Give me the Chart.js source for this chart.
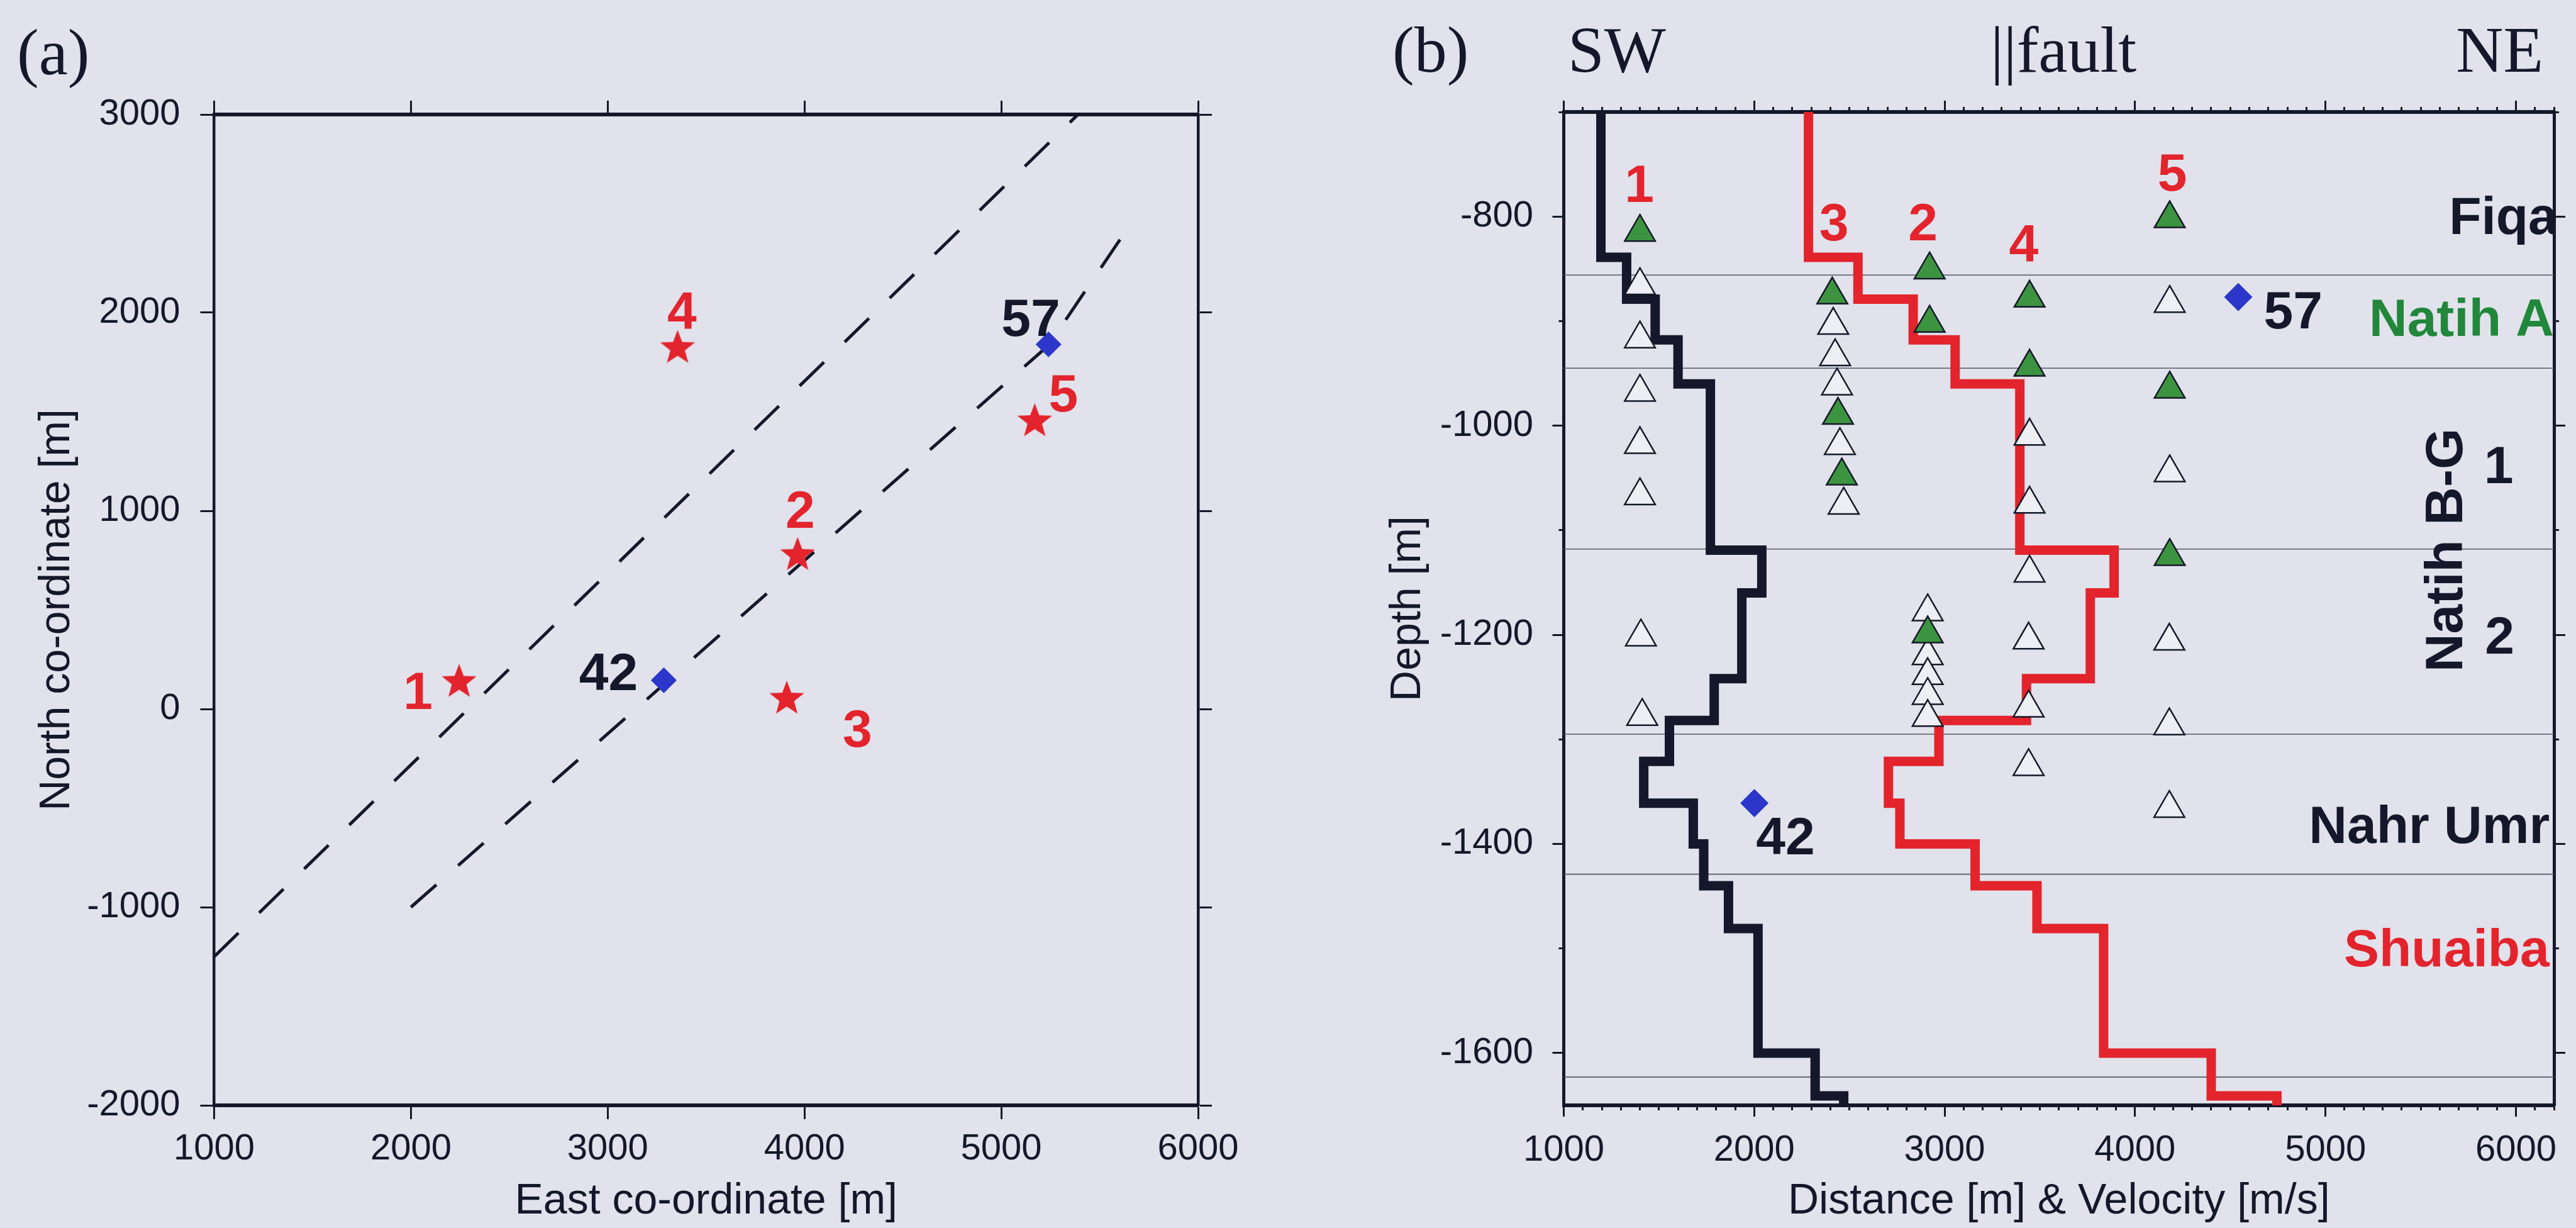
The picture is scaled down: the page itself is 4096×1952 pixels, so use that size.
<!DOCTYPE html>
<html>
<head>
<meta charset="utf-8">
<script src="https://cdn.jsdelivr.net/npm/chart.js@4/dist/chart.umd.min.js"></script>
<style>
  html, body { margin: 0; padding: 0; background: #e1e2eb; }
  body { width: 4096px; height: 1952px; position: relative; overflow: hidden; }
  canvas { position: absolute; top: 0; }
  #mapChart { left: 0; }
  #depthChart { left: 2100px; }
</style>
</head>
<body>
<canvas id="mapChart" width="2040" height="1952"></canvas>
<canvas id="depthChart" width="1996" height="1952"></canvas>
<script>
// ---- panel (a): map view ----
const starEast  = [2245, 3965, 3910, 3355, 5170];
const starNorth = [145, 785, 60, 1830, 1460];
const starName  = ['1', '2', '3', '4', '5'];
const starTagEast  = [2036, 3978, 4269, 3377, 5316];
const starTagNorth = [0, 913, -189, 1918, 1503];

const wellEast  = [5240, 3285];
const wellNorth = [1840, 145];
const wellName  = ['57', '42'];
const wellTagEast  = [5150, 3004];
const wellTagNorth = [1884, 94];

const faultAEast  = [1000, 5390];
const faultANorth = [-1250, 3000];
const faultBEast  = [2000, 5240, 5655];
const faultBNorth = [-1000, 1835, 2445];

const mapTickEast  = [1000, 2000, 3000, 4000, 5000, 6000];
const mapTickNorth = [-2000, -1000, 0, 1000, 2000, 3000];

// ---- panel (b): depth section ----
const layerTop  = [-700, -839, -879, -918, -960, -1119, -1160, -1242, -1282, -1321, -1361, -1400, -1440, -1481, -1600, -1641];
const depthBase = -1650;
const velBlack  = [1195, 1330, 1480, 1600, 1770, 2040, 1935, 1790, 1555, 1420, 1680, 1735, 1865, 2020, 2320, 2470];
const velRed    = [2285, 2545, 2835, 3055, 3395, 3890, 3765, 3430, 2970, 2705, 2765, 3160, 3485, 3835, 4400, 4745];
const horizonDepth = [-856, -945, -1118, -1295, -1429, -1623];

const openDist  = [1400, 1400, 1400, 1400, 1400, 1405, 1412, 2415, 2425, 2435, 2450, 2470, 2911, 2911, 2911, 2911, 2911, 3446, 3446, 3446, 3441, 3441, 3441, 4182, 4182, 4180, 4180, 4180];
const openDepth = [-866, -917, -968, -1018, -1067, -1202, -1278, -904, -934, -962, -1019, -1076, -1178, -1220, -1239, -1258, -1279, -1010, -1075, -1141, -1205, -1270, -1326, -883, -1045, -1206, -1287, -1366];
const pickDist  = [1400, 2410, 2440, 2460, 2921, 2921, 2911, 3446, 3446, 4182, 4182, 4182];
const pickDepth = [-815, -875, -990, -1048, -851, -902, -1199, -878, -944, -802, -965, -1125];

const shotTagDist  = [1397, 2886, 2419, 3415, 4196];
const shotTagDepth = [-786, -823, -823, -843, -775];

const wellDist  = [4542, 2001];
const wellDepth = [-877, -1361];
const wellTagDist  = [4676, 2010];
const wellTagDepth = [-907, -1410];

const unitName  = ['Fiqa', 'Natih A', 'Nahr Umr', 'Shuaiba', '1', '2'];
const unitDist  = [5649, 5229, 4913, 5097, 5910, 5915];
const unitDepth = [-817, -914, -1399, -1517, -1055, -1218];

const sectTickDist  = [1000, 2000, 3000, 4000, 5000, 6000];
const sectTickDepth = [-1600, -1400, -1200, -1000, -800];

const INK = '#15182a';
const RED = '#e3242d';
const BLUE = '#2c37c9';
const GREEN = '#3d9440';
const SANS = "'Liberation Sans', Arial, Helvetica, sans-serif";
const SERIF = "'Liberation Serif', 'Times New Roman', serif";

const pts = (xs, ys) => xs.map((x, i) => ({x: x, y: ys[i]}));
const fixSize = px => scale => { if (scale.isHorizontal()) scale.height = px; else scale.width = px; };

// minor tick marks every 100 m
function every(from, to, step) {
  const out = [];
  for (let v = from; v <= to; v += step) out.push(v);
  return out;
}

function axis(position, min, max, values, size, tick, o) {
  o = o || {};
  return {
    type: 'linear', position: position, min: min, max: max, weight: o.weight || 0,
    afterFit: fixSize(size),
    afterBuildTicks: scale => { scale.ticks = values.map(v => ({value: v})); },
    ticks: {
      display: !!o.labels, autoSkip: false, maxRotation: 0,
      padding: o.pad || 0, color: INK, font: {family: SANS, size: 58},
      callback: v => String(v)
    },
    grid: {display: true, drawOnChartArea: false, drawTicks: true, tickLength: tick, tickWidth: 3, tickColor: INK},
    border: {display: !!o.border, width: o.border || 1, color: INK},
    title: o.title ? {display: true, text: o.title, color: INK, font: {family: SANS, size: 68}, padding: o.titlePad}
                   : {display: false}
  };
}

function starImage(R, color) {
  const s = Math.ceil(R * 2 + 6);
  const c = document.createElement('canvas');
  c.width = s; c.height = s;
  const g = c.getContext('2d');
  g.translate(s / 2, s / 2 + R * 0.095);
  g.beginPath();
  for (let i = 0; i < 10; i++) {
    const r = i % 2 ? R * 0.42 : R;
    const a = -Math.PI / 2 + i * Math.PI / 5;
    g.lineTo(r * Math.cos(a), r * Math.sin(a));
  }
  g.closePath();
  g.fillStyle = color;
  g.fill();
  return c;
}

function stepLine(vel) {
  const out = [];
  vel.forEach((v, i) => {
    const bottom = i + 1 < layerTop.length ? layerTop[i + 1] : depthBase;
    out.push({x: v, y: layerTop[i]}, {x: v, y: bottom});
  });
  return out;
}

function text(ctx, str, x, y, font, color, align) {
  ctx.font = font;
  ctx.fillStyle = color;
  ctx.textAlign = align || 'left';
  ctx.textBaseline = 'alphabetic';
  ctx.fillText(str, x, y);
}

const BOLD = 'bold 84px ' + SANS;
const HEAD = '104px ' + SERIF;

const mapText = {
  id: 'mapText',
  afterDraw(chart) {
    const {ctx, scales: {x, y}} = chart;
    ctx.save();
    starName.forEach((t, i) => text(ctx, t, x.getPixelForValue(starTagEast[i]), y.getPixelForValue(starTagNorth[i]), BOLD, RED, 'center'));
    wellName.forEach((t, i) => text(ctx, t, x.getPixelForValue(wellTagEast[i]), y.getPixelForValue(wellTagNorth[i]), BOLD, INK, 'center'));
    text(ctx, '(a)', 27, 118, HEAD, INK);
    ctx.restore();
  }
};

const depthText = {
  id: 'depthText',
  afterDraw(chart) {
    const {ctx, chartArea: a, scales: {x, y}} = chart;
    ctx.save();
    ctx.beginPath();
    ctx.rect(a.left, a.top, a.right - a.left, a.bottom - a.top);
    ctx.clip();
    starName.forEach((t, i) => text(ctx, t, x.getPixelForValue(shotTagDist[i]), y.getPixelForValue(shotTagDepth[i]), BOLD, RED, 'center'));
    wellName.forEach((t, i) => text(ctx, t, x.getPixelForValue(wellTagDist[i]), y.getPixelForValue(wellTagDepth[i]), BOLD, INK));
    const unitColor = {'Natih A': '#21873a', 'Shuaiba': RED};
    unitName.forEach((t, i) => {
      const single = t.length === 1;
      text(ctx, t, x.getPixelForValue(unitDist[i]), y.getPixelForValue(unitDepth[i]), BOLD, unitColor[t] || INK, single ? 'center' : 'left');
    });
    ctx.save();
    ctx.translate(x.getPixelForValue(5719), y.getPixelForValue(-1119));
    ctx.rotate(-Math.PI / 2);
    text(ctx, 'Natih B-G', 0, 0, BOLD, INK, 'center');
    ctx.restore();
    ctx.restore();

    ctx.save();
    text(ctx, '(b)', 114, 114, HEAD, INK);
    text(ctx, 'SW', 393, 114, HEAD, INK);
    text(ctx, '||fault', 1065, 114, HEAD, INK);
    text(ctx, 'NE', 1944, 114, HEAD, INK, 'right');
    ctx.restore();
  }
};

const common = {
  responsive: false,
  animation: false,
  events: [],
  layout: {padding: 0},
  plugins: {legend: {display: false}, tooltip: {enabled: false}}
};

new Chart(document.getElementById('mapChart'), {
  type: 'scatter',
  data: {
    datasets: [
      {label: 'fault A', data: pts(faultAEast, faultANorth), showLine: true, borderColor: INK, borderWidth: 5,
       borderDash: [54, 46], borderCapStyle: 'butt', pointRadius: 0, order: 3},
      {label: 'fault B', data: pts(faultBEast, faultBNorth), showLine: true, borderColor: INK, borderWidth: 5,
       borderDash: [54, 46], borderCapStyle: 'butt', pointRadius: 0, order: 3},
      {label: 'shots', data: pts(starEast, starNorth), pointStyle: starImage(29, RED), pointRadius: 29, order: 1},
      {label: 'wells', data: pts(wellEast, wellNorth), pointStyle: 'rectRot', pointRadius: 20,
       backgroundColor: BLUE, borderColor: BLUE, borderWidth: 1, order: 1}
    ]
  },
  options: Object.assign({}, common, {
    scales: {
      x: axis('bottom', 1000, 6000, mapTickEast, 195, 22, {labels: true, pad: 13, border: 6,
           title: 'East co-ordinate [m]', titlePad: {top: 0, bottom: 1}}),
      xTop: axis('top', 1000, 6000, mapTickEast, 182, 22, {border: 6}),
      y: axis('left', -2000, 3000, mapTickNorth, 340.5, 22, {labels: true, pad: 32, border: 4.5,
           title: 'North co-ordinate [m]', titlePad: {top: 50, bottom: 0}}),
      yRight: axis('right', -2000, 3000, mapTickNorth, 135, 22, {border: 4.5})
    }
  }),
  plugins: [mapText]
});

const horizonSets = horizonDepth.map(d => ({
  label: 'horizon', data: [{x: 1000, y: d}, {x: 6200, y: d}], showLine: true,
  borderColor: '#555968', borderWidth: 1.6, pointRadius: 0, order: 6
}));

const minorDist = every(1000, 6200, 100);
const minorDepth = every(-1600, -700, 100);

new Chart(document.getElementById('depthChart'), {
  type: 'scatter',
  data: {
    datasets: horizonSets.concat([
      {label: 'velocity SW', data: stepLine(velBlack), showLine: true, borderColor: INK, borderWidth: 15,
       borderJoinStyle: 'miter', borderCapStyle: 'butt', pointRadius: 0, order: 5},
      {label: 'velocity NE', data: stepLine(velRed), showLine: true, borderColor: RED, borderWidth: 15,
       borderJoinStyle: 'miter', borderCapStyle: 'butt', pointRadius: 0, order: 5},
      {label: 'receivers', data: pts(openDist, openDepth), pointStyle: 'triangle', pointRadius: 28,
       backgroundColor: '#eeeef5', borderColor: INK, borderWidth: 2.5, order: 3},
      {label: 'picked', data: pts(pickDist, pickDepth), pointStyle: 'triangle', pointRadius: 28,
       backgroundColor: GREEN, borderColor: INK, borderWidth: 2.5, order: 2},
      {label: 'wells', data: pts(wellDist, wellDepth), pointStyle: 'rectRot', pointRadius: 22,
       backgroundColor: BLUE, borderColor: BLUE, borderWidth: 1, order: 1}
    ])
  },
  options: Object.assign({}, common, {
    scales: {
      x: axis('bottom', 1000, 6200, sectTickDist, 195, 18, {labels: true, pad: 19, border: 6, weight: 1,
           title: 'Distance [m] & Velocity [m/s]', titlePad: {top: 0, bottom: 1}}),
      xMinor: axis('bottom', 1000, 6200, minorDist, 0, 8, {weight: 0}),
      xTop: axis('top', 1000, 6200, sectTickDist, 178, 18, {border: 6, weight: 1}),
      xTopMinor: axis('top', 1000, 6200, minorDist, 0, 8, {weight: 0}),
      y: axis('left', -1650, -700, sectTickDepth, 386.5, 18, {labels: true, pad: 30.5, border: 5, weight: 1,
           title: 'Depth [m]', titlePad: {top: 98, bottom: 0}}),
      yMinor: axis('left', -1650, -700, minorDepth, 0, 8, {weight: 0}),
      yRight: axis('right', -1650, -700, sectTickDepth, 35, 18, {border: 5, weight: 1}),
      yRightMinor: axis('right', -1650, -700, minorDepth, 0, 8, {weight: 0})
    }
  }),
  plugins: [depthText]
});
</script>
</body>
</html>
